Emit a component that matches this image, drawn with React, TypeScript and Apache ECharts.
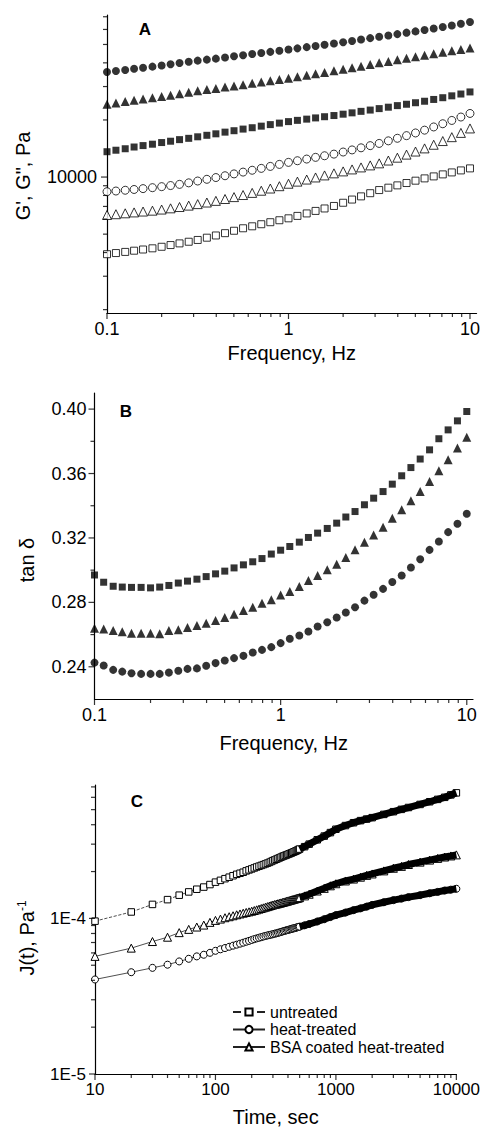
import React, { useEffect, useRef } from "react";
import * as echarts from "echarts";

const FONT = "'Liberation Sans', Arial, Helvetica, sans-serif";

// ---------- Panel A : G', G'' vs frequency ----------
const FREQ = [0.1, 0.112, 0.126, 0.141, 0.158, 0.178, 0.2, 0.224, 0.251, 0.282, 0.316, 0.355, 0.398, 0.447, 0.501, 0.562, 0.631, 0.708, 0.794, 0.891, 1, 1.12, 1.26, 1.41, 1.58, 1.78, 2, 2.24, 2.51, 2.82, 3.16, 3.55, 3.98, 4.47, 5.01, 5.62, 6.31, 7.08, 7.94, 8.91, 10];

const A_FILLED_CIRCLE = [35800, 36200, 36700, 37200, 37700, 38200, 38700, 39300, 39900, 40500, 41100, 41600, 42100, 42700, 43300, 43900, 44500, 45100, 45700, 46300, 47000, 47700, 48400, 49100, 49800, 50600, 51400, 52200, 53100, 54000, 54900, 55800, 56700, 57700, 58600, 59600, 60700, 61800, 63000, 64300, 65700];
const A_FILLED_TRIANGLE = [24200, 24600, 25000, 25400, 25800, 26200, 26600, 27000, 27500, 28000, 28500, 28900, 29300, 29800, 30200, 30700, 31200, 31700, 32200, 32700, 33200, 33800, 34400, 35000, 35600, 36300, 37000, 37700, 38400, 39200, 40000, 40700, 41500, 42300, 43100, 43900, 44700, 45500, 46300, 47100, 47900];
const A_FILLED_SQUARE = [13600, 13850, 14100, 14400, 14650, 14900, 15200, 15450, 15750, 16000, 16300, 16600, 16900, 17250, 17550, 17900, 18200, 18550, 18900, 19250, 19600, 19900, 20200, 20500, 20800, 21100, 21450, 21800, 22200, 22550, 22950, 23350, 23800, 24200, 24650, 25100, 25650, 26200, 26800, 27400, 28100];
const A_OPEN_CIRCLE = [8370, 8440, 8520, 8600, 8690, 8790, 8900, 9020, 9150, 9320, 9530, 9730, 9940, 10160, 10390, 10620, 10860, 11110, 11380, 11660, 11950, 12190, 12440, 12700, 12950, 13210, 13550, 13900, 14260, 14640, 15040, 15520, 16010, 16530, 17080, 17670, 18370, 19100, 19880, 20720, 21640];
const A_OPEN_TRIANGLE = [6310, 6370, 6440, 6510, 6580, 6650, 6740, 6840, 6950, 7070, 7200, 7340, 7490, 7660, 7840, 8040, 8250, 8470, 8700, 8950, 9220, 9460, 9700, 9950, 10200, 10460, 10710, 10970, 11240, 11520, 11810, 12220, 12650, 13130, 13630, 14160, 14800, 15480, 16230, 17090, 18040];
const A_OPEN_SQUARE = [3920, 3975, 4030, 4090, 4150, 4210, 4290, 4380, 4470, 4560, 4660, 4790, 4920, 5060, 5210, 5370, 5500, 5640, 5780, 5920, 6060, 6240, 6430, 6630, 6830, 7040, 7320, 7610, 7910, 8220, 8540, 8790, 9040, 9300, 9570, 9840, 10080, 10330, 10580, 10840, 11110];

// ---------- Panel B : tan delta ----------
const B_SQUARE = [0.297, 0.2925, 0.29, 0.2895, 0.2893, 0.2893, 0.289, 0.2895, 0.2905, 0.292, 0.2932, 0.2944, 0.296, 0.2977, 0.2994, 0.3014, 0.3033, 0.3052, 0.3072, 0.31, 0.3124, 0.3147, 0.3174, 0.3203, 0.323, 0.3259, 0.3292, 0.333, 0.3364, 0.3406, 0.3447, 0.3488, 0.3534, 0.3586, 0.3637, 0.369, 0.3747, 0.3816, 0.3871, 0.3927, 0.3985];
const B_TRIANGLE = [0.264, 0.2635, 0.2625, 0.2617, 0.2609, 0.2608, 0.2608, 0.2605, 0.2625, 0.263, 0.2644, 0.2656, 0.2671, 0.2687, 0.2706, 0.2727, 0.275, 0.277, 0.2795, 0.2816, 0.2845, 0.2867, 0.2898, 0.2936, 0.2967, 0.3002, 0.3037, 0.3078, 0.3126, 0.3174, 0.3219, 0.3267, 0.3323, 0.3375, 0.3431, 0.3488, 0.355, 0.3617, 0.3685, 0.3758, 0.3826];
const B_CIRCLE = [0.2426, 0.2408, 0.2381, 0.237, 0.236, 0.2356, 0.2356, 0.2356, 0.2364, 0.2375, 0.2387, 0.239, 0.2406, 0.2423, 0.2439, 0.2454, 0.2468, 0.2489, 0.2505, 0.2522, 0.2547, 0.2574, 0.2594, 0.2619, 0.265, 0.2677, 0.2706, 0.2737, 0.277, 0.2811, 0.2847, 0.2884, 0.2926, 0.2967, 0.3016, 0.3068, 0.3126, 0.3178, 0.3236, 0.3288, 0.335];

// ---------- Panel C : creep compliance ----------
const C_TIME = [
  10, 20, 30, 40, 50, 60, 70, 80, 90, 100,
  110, 120, 130, 140, 150, 160, 170, 180, 190, 200,
  210, 220, 230, 240, 250, 260, 270, 280, 290, 300,
  310, 320, 330, 340, 350, 360, 370, 380, 390, 400,
  410, 420, 430, 440, 450, 460, 470, 480, 490, 500,
  550, 600, 700, 800, 900, 1000, 1200, 1400, 1600, 1800, 2000, 2500, 3000, 3500, 4000, 5000, 6000, 7000, 8000, 9000, 10000,
];
const C_UNTREATED = [
  9.6e-5, 1.1e-4, 1.23e-4, 1.32e-4, 1.41e-4, 1.48e-4, 1.54e-4, 1.59e-4, 1.65e-4, 1.71e-4,
  1.756e-4, 1.8e-4, 1.84e-4, 1.88e-4, 1.92e-4, 1.95e-4, 1.98e-4, 2.02e-4, 2.05e-4, 2.08e-4,
  2.11e-4, 2.14e-4, 2.165e-4, 2.19e-4, 2.215e-4, 2.24e-4, 2.265e-4, 2.29e-4, 2.32e-4, 2.35e-4,
  2.375e-4, 2.4e-4, 2.425e-4, 2.45e-4, 2.475e-4, 2.5e-4, 2.52e-4, 2.54e-4, 2.56e-4, 2.58e-4,
  2.6e-4, 2.62e-4, 2.64e-4, 2.66e-4, 2.68e-4, 2.7e-4, 2.72e-4, 2.745e-4, 2.77e-4, 2.79e-4,
  2.89e-4, 3.0e-4, 3.2e-4, 3.38e-4, 3.56e-4, 3.74e-4, 3.95e-4, 4.12e-4, 4.25e-4, 4.35e-4, 4.44e-4, 4.66e-4, 4.85e-4, 5.02e-4, 5.16e-4, 5.4e-4, 5.62e-4, 5.82e-4, 6.0e-4, 6.22e-4, 6.41e-4,
];
const C_HEAT = [
  4.05e-5, 4.51e-5, 4.81e-5, 5.04e-5, 5.29e-5, 5.5e-5, 5.7e-5, 5.84e-5, 6.01e-5, 6.19e-5,
  6.33e-5, 6.45e-5, 6.57e-5, 6.68e-5, 6.78e-5, 6.88e-5, 6.98e-5, 7.08e-5, 7.17e-5, 7.27e-5,
  7.36e-5, 7.44e-5, 7.51e-5, 7.58e-5, 7.65e-5, 7.71e-5, 7.77e-5, 7.82e-5, 7.87e-5, 7.91e-5,
  7.97e-5, 8.02e-5, 8.08e-5, 8.13e-5, 8.19e-5, 8.24e-5, 8.29e-5, 8.34e-5, 8.39e-5, 8.44e-5,
  8.48e-5, 8.52e-5, 8.57e-5, 8.61e-5, 8.65e-5, 8.69e-5, 8.73e-5, 8.77e-5, 8.81e-5, 8.85e-5,
  9.03e-5, 9.2e-5, 9.55e-5, 9.88e-5, 1.02e-4, 1.05e-4, 1.09e-4, 1.13e-4, 1.16e-4, 1.19e-4, 1.22e-4, 1.27e-4, 1.31e-4, 1.34e-4, 1.37e-4, 1.41e-4, 1.45e-4, 1.48e-4, 1.51e-4, 1.53e-4, 1.55e-4,
];
const C_BSA = [
  5.7e-5, 6.44e-5, 7.1e-5, 7.57e-5, 8.1e-5, 8.5e-5, 8.8e-5, 9.06e-5, 9.43e-5, 9.71e-5,
  9.9e-5, 1.01e-4, 1.025e-4, 1.04e-4, 1.055e-4, 1.068e-4, 1.08e-4, 1.092e-4, 1.102e-4, 1.112e-4,
  1.124e-4, 1.135e-4, 1.147e-4, 1.158e-4, 1.169e-4, 1.18e-4, 1.19e-4, 1.2e-4, 1.21e-4, 1.22e-4,
  1.228e-4, 1.235e-4, 1.243e-4, 1.25e-4, 1.258e-4, 1.265e-4, 1.273e-4, 1.28e-4, 1.288e-4, 1.295e-4,
  1.302e-4, 1.309e-4, 1.316e-4, 1.323e-4, 1.33e-4, 1.336e-4, 1.342e-4, 1.348e-4, 1.354e-4, 1.36e-4,
  1.395e-4, 1.43e-4, 1.5e-4, 1.56e-4, 1.62e-4, 1.67e-4, 1.74e-4, 1.79e-4, 1.84e-4, 1.89e-4, 1.93e-4, 2.02e-4, 2.1e-4, 2.16e-4, 2.22e-4, 2.3e-4, 2.37e-4, 2.43e-4, 2.48e-4, 2.52e-4, 2.56e-4,
];
const C_LEGEND = ["untreated", "heat-treated", "BSA coated heat-treated"];
const C_BAND_FROM = 500; // from here on the dense markers merge into a solid band

// ---------- ticks ----------
const FREQ_MAJOR = [0.1, 1, 10];
const FREQ_MINOR = [0.2, 0.3, 0.4, 0.5, 0.6, 0.7, 0.8, 0.9, 2, 3, 4, 5, 6, 7, 8, 9];
const A_Y_MAJOR = [10000];
const A_Y_MINOR = [2000, 3000, 4000, 5000, 6000, 7000, 8000, 9000, 20000, 30000, 40000, 50000, 60000, 70000];
const B_Y_MAJOR = [0.24, 0.28, 0.32, 0.36, 0.4];
const B_Y_MINOR = [0.26, 0.3, 0.34, 0.38];
const C_X_MAJOR = [10, 100, 1000, 10000];
const C_X_MINOR = [20, 30, 40, 50, 60, 70, 80, 90, 200, 300, 400, 500, 600, 700, 800, 900, 2000, 3000, 4000, 5000, 6000, 7000, 8000, 9000];
const C_Y_MAJOR = [1e-5, 1e-4];
const C_Y_MINOR = [2e-5, 3e-5, 4e-5, 5e-5, 6e-5, 7e-5, 8e-5, 9e-5, 2e-4, 3e-4, 4e-4, 5e-4, 6e-4, 7e-4];

// axis extents
const A_X = [0.1, 10.87];
const A_Y = [1920, 71500];
const B_X = [0.1, 10.8];
const B_Y = [0.22, 0.41];
const C_X = [10, 10000];
const C_Y = [1e-5, 7.2e-4];

const FILLED = { color: "#000" };
const OPEN = { color: "#fff", borderColor: "#000", borderWidth: 1 };

function scat(idx: number, xs: number[], ys: number[], symbol: string, size: number, style: any) {
  return {
    type: "scatter",
    xAxisIndex: idx,
    yAxisIndex: idx,
    data: xs.map((x, i) => [x, ys[i]]),
    symbol,
    symbolSize: size,
    itemStyle: style,
    silent: true,
    z: 3,
  };
}

function xTicks(idx: number, values: number[], yAt: number, len: number) {
  return {
    type: "scatter",
    xAxisIndex: idx,
    yAxisIndex: idx,
    data: values.map((v) => [v, yAt]),
    symbol: "rect",
    symbolSize: [1.2, len],
    symbolOffset: [0, len / 2],
    itemStyle: { color: "#000" },
    silent: true,
    clip: false,
    z: 5,
  };
}

function yTicks(idx: number, values: number[], xAt: number, len: number) {
  return {
    type: "scatter",
    xAxisIndex: idx,
    yAxisIndex: idx,
    data: values.map((v) => [xAt, v]),
    symbol: "rect",
    symbolSize: [len, 1.2],
    symbolOffset: [-len / 2, 0],
    itemStyle: { color: "#000" },
    silent: true,
    clip: false,
    z: 5,
  };
}

const axisLine = { show: true, onZero: false, lineStyle: { color: "#000", width: 1.2 } };

function numFmt(v: number) {
  return String(+Number(v).toPrecision(6));
}

export default function App() {
  const ref = useRef<HTMLDivElement>(null);

  useEffect(() => {
    if (!ref.current) return;
    const chart = echarts.init(ref.current, null, { renderer: "svg" });

    const labelBase = { color: "#000", fontFamily: FONT };
    const nameStyle = { color: "#000", fontFamily: FONT, fontSize: 20 };

    const band = (ys: number[]) => ({
      type: "line",
      xAxisIndex: 2,
      yAxisIndex: 2,
      data: C_TIME.map((t, i) => [t, ys[i]]).filter((d) => d[0] >= C_BAND_FROM),
      symbol: "none",
      lineStyle: { color: "#000", width: 7 },
      silent: true,
      z: 4,
    });

    const cLine = (name: string, ys: number[], symbol: string, size: number, dashed: boolean) => ({
      name,
      type: "line",
      xAxisIndex: 2,
      yAxisIndex: 2,
      data: C_TIME.map((t, i) => [t, ys[i]]),
      symbol,
      symbolSize: size,
      showSymbol: true,
      showAllSymbol: true,
      itemStyle: { color: "#fff", borderColor: "#000", borderWidth: 1 },
      lineStyle: { color: "#222", width: 0.8, type: dashed ? "dashed" : "solid" },
      silent: true,
      z: 3,
    });

    const option: any = {
      animation: false,
      backgroundColor: "#fff",
      grid: [
        { left: 107, top: 15, width: 370, height: 298 },
        { left: 94.5, top: 393, width: 378.5, height: 306 },
        { left: 95, top: 785, width: 362, height: 292 },
      ],
      xAxis: [
        {
          type: "log", logBase: 10, gridIndex: 0, min: A_X[0], max: A_X[1],
          axisLine, axisTick: { show: false }, splitLine: { show: false },
          axisLabel: { ...labelBase, fontSize: 18, margin: 7, showMaxLabel: false, formatter: numFmt },
          name: "Frequency, Hz", nameLocation: "middle", nameGap: 30, nameTextStyle: nameStyle,
        },
        {
          type: "log", logBase: 10, gridIndex: 1, min: B_X[0], max: B_X[1],
          axisLine, axisTick: { show: false }, splitLine: { show: false },
          axisLabel: { ...labelBase, fontSize: 18, margin: 7, showMaxLabel: false, formatter: numFmt },
          name: "Frequency, Hz", nameLocation: "middle", nameGap: 34, nameTextStyle: nameStyle,
        },
        {
          type: "log", logBase: 10, gridIndex: 2, min: C_X[0], max: C_X[1],
          axisLine, axisTick: { show: false }, splitLine: { show: false },
          axisLabel: { ...labelBase, fontSize: 17, margin: 7, formatter: (v: number) => String(Math.round(v)) },
          name: "Time, sec", nameLocation: "middle", nameGap: 33, nameTextStyle: nameStyle,
        },
      ],
      yAxis: [
        {
          type: "log", logBase: 10, gridIndex: 0, min: A_Y[0], max: A_Y[1],
          axisLine, axisTick: { show: false }, splitLine: { show: false },
          axisLabel: { ...labelBase, fontSize: 18, margin: 10, showMinLabel: false, showMaxLabel: false, formatter: (v: number) => String(Math.round(v)) },
        },
        {
          type: "value", gridIndex: 1, min: B_Y[0], max: B_Y[1], interval: 0.02,
          axisLine, axisTick: { show: false }, splitLine: { show: false },
          axisLabel: {
            ...labelBase, fontSize: 18, margin: 8,
            formatter: (v: number) => (Math.round(v * 100) % 4 === 0 ? Number(v).toFixed(2) : ""),
          },
        },
        {
          type: "log", logBase: 10, gridIndex: 2, min: C_Y[0], max: C_Y[1],
          axisLine, axisTick: { show: false }, splitLine: { show: false },
          axisLabel: { ...labelBase, fontSize: 17, margin: 9, showMaxLabel: false, formatter: (v: number) => "1E" + Math.round(Math.log10(v)) },
        },
      ],
      legend: {
        data: C_LEGEND,
        orient: "vertical",
        left: 227,
        top: 999,
        itemWidth: 32,
        itemHeight: 9,
        itemGap: 1.5,
        selectedMode: false,
        textStyle: { color: "#000", fontFamily: FONT, fontSize: 16, lineHeight: 16 },
      },
      graphic: [
        { type: "text", x: 145, y: 29, style: { text: "A", fill: "#000", fontFamily: FONT, fontSize: 17, fontWeight: "bold", align: "center", verticalAlign: "middle" } },
        { type: "text", x: 126, y: 411, style: { text: "B", fill: "#000", fontFamily: FONT, fontSize: 17, fontWeight: "bold", align: "center", verticalAlign: "middle" } },
        { type: "text", x: 137, y: 801, style: { text: "C", fill: "#000", fontFamily: FONT, fontSize: 17, fontWeight: "bold", align: "center", verticalAlign: "middle" } },
        { type: "text", x: 23, y: 176, rotation: Math.PI / 2, style: { text: "G', G\", Pa", fill: "#000", fontFamily: FONT, fontSize: 20, align: "center", verticalAlign: "middle" } },
        { type: "text", x: 27, y: 560, rotation: Math.PI / 2, style: { text: "tan δ", fill: "#000", fontFamily: FONT, fontSize: 20, align: "center", verticalAlign: "middle" } },
        {
          type: "text", x: 27, y: 938, rotation: Math.PI / 2,
          style: {
            text: "{a|J(t), Pa}{b|-1}", fill: "#000", align: "center", verticalAlign: "middle",
            rich: {
              a: { fontFamily: FONT, fontSize: 20, lineHeight: 22, fill: "#000" },
              b: { fontFamily: FONT, fontSize: 12, lineHeight: 22, verticalAlign: "top", fill: "#000" },
            },
          },
        },
      ],
      series: [
        // Panel A
        scat(0, FREQ, A_OPEN_SQUARE, "rect", 7, OPEN),
        scat(0, FREQ, A_OPEN_TRIANGLE, "triangle", 9, OPEN),
        scat(0, FREQ, A_OPEN_CIRCLE, "circle", 8, OPEN),
        scat(0, FREQ, A_FILLED_SQUARE, "rect", 7, FILLED),
        scat(0, FREQ, A_FILLED_TRIANGLE, "triangle", 9, FILLED),
        scat(0, FREQ, A_FILLED_CIRCLE, "circle", 8, FILLED),
        xTicks(0, FREQ_MAJOR, A_Y[0], 6),
        xTicks(0, FREQ_MINOR, A_Y[0], 4),
        yTicks(0, A_Y_MAJOR, A_X[0], 6),
        yTicks(0, A_Y_MINOR, A_X[0], 4),
        // Panel B
        scat(1, FREQ, B_SQUARE, "rect", 7, FILLED),
        scat(1, FREQ, B_TRIANGLE, "triangle", 9, FILLED),
        scat(1, FREQ, B_CIRCLE, "circle", 8, FILLED),
        xTicks(1, FREQ_MAJOR, B_Y[0], 6),
        xTicks(1, FREQ_MINOR, B_Y[0], 4),
        yTicks(1, B_Y_MAJOR, B_X[0], 6),
        yTicks(1, B_Y_MINOR, B_X[0], 4),
        // Panel C
        cLine(C_LEGEND[0], C_UNTREATED, "rect", 6.5, true),
        cLine(C_LEGEND[1], C_HEAT, "circle", 7, false),
        cLine(C_LEGEND[2], C_BSA, "triangle", 8, false),
        band(C_UNTREATED),
        band(C_HEAT),
        band(C_BSA),
        xTicks(2, C_X_MAJOR, C_Y[0], 6),
        xTicks(2, C_X_MINOR, C_Y[0], 4),
        yTicks(2, C_Y_MAJOR, C_X[0], 6),
        yTicks(2, C_Y_MINOR, C_X[0], 4),
      ],
    };

    chart.setOption(option);
    return () => chart.dispose();
  }, []);

  return (
    <div
      ref={ref}
      style={{ position: "absolute", left: 0, top: 0, width: 483, height: 1128, background: "#fff" }}
    />
  );
}
